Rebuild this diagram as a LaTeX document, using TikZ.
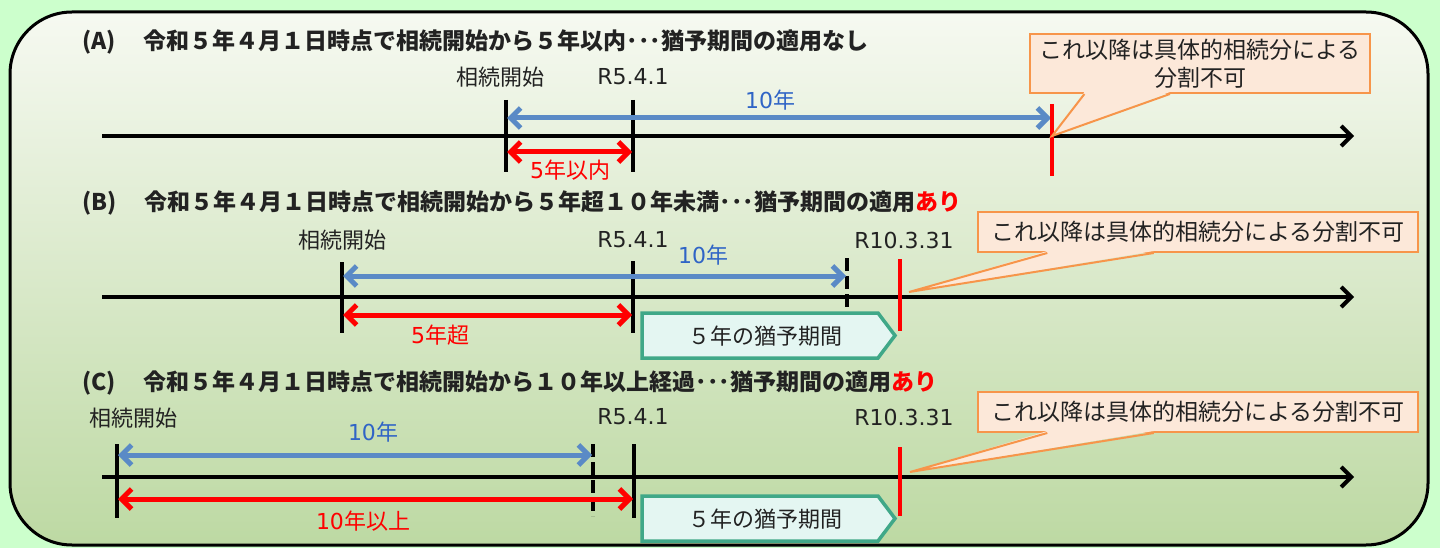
\documentclass[tikz,border=0pt]{standalone}
\usepackage{fontspec}
\setmainfont{Noto Sans CJK JP}
\newfontfamily\lat{DejaVu Sans}
\usetikzlibrary{arrows.meta,calc}
\definecolor{bggreen}{HTML}{CCFFCC}
\definecolor{boxtop}{HTML}{F6F9F1}
\definecolor{boxbot}{HTML}{BDD9A3}
\definecolor{arrblue}{HTML}{5A8AC6}
\definecolor{txtblue}{HTML}{2F64C6}
\definecolor{callfill}{HTML}{FCE8D9}
\definecolor{callline}{HTML}{F7954A}
\definecolor{pentline}{HTML}{40A888}
\definecolor{pentfill}{HTML}{E4F6F2}
\definecolor{txtgray}{HTML}{222222}
\tikzset{
  tip/.tip={Straight Barb[length=10pt,width=20pt]},
  titletxt/.style={anchor=west,inner sep=0pt,font=\fontsize{23}{27}\selectfont\bfseries,text=txtgray},
  lbl/.style={inner sep=0pt,font=\fontsize{22}{26}\selectfont,text=txtgray},
  bluelbl/.style={lbl,text=txtblue},
  redlbl/.style={lbl,text=red},
  tickline/.style={line width=4pt,black},
  dtick/.style={line width=4pt,black,dash pattern=on 13pt off 5pt},
  redtick/.style={line width=3.5pt,red},
  axisline/.style={line width=4pt,black,-{tip}},
  bluearr/.style={line width=5pt,arrblue,{tip}-{tip},shorten <=1pt,shorten >=1pt},
  redarr/.style={line width=5pt,red,{tip}-{tip},shorten <=1pt,shorten >=1pt},
  callbox/.style={draw=callline,line width=2pt,fill=callfill,inner sep=0pt,align=center,font=\fontsize{23}{28}\selectfont,text=txtgray},
  wedgeline/.style={draw=callline,line width=2pt,line join=miter},
  pentpath/.style={draw=pentline,fill=pentfill,line width=3.5pt}
}
\begin{document}
\begin{tikzpicture}[x=1pt,y=-1pt]
\useasboundingbox (0,0) rectangle (1440,548);
\fill[bggreen] (0,0) rectangle (1440,548);
\draw[line width=3pt,rounded corners=62pt,top color=boxtop,bottom color=boxbot] (10,12) rectangle (1428,545);

% ================= (A) =================
\node[titletxt] (Atitle) at (82,42) {(A)\hspace{28pt}令和５年４月１日時点で相続開始から５年以内･･･猶予期間の適用なし};
\node[lbl] (Astart) at (500,77) {相続開始};
\node[lbl] (Ar541) at (633,77) {\lat R5.4.1};
\node[bluelbl] (A10) at (770,100) {{\lat 10}年};
\node[redlbl] (A5) at (570,170) {{\lat 5}年以内};
\coordinate (Aax0) at (102,136);
\coordinate (Aax1) at (1354,136);
\draw[axisline] (Aax0) -- (Aax1);
\coordinate (At1a) at (506,100); \coordinate (At1b) at (506,172);
\coordinate (At2a) at (633,100); \coordinate (At2b) at (633,172);
\coordinate (Ar1) at (1052,104); \coordinate (Ar2) at (1052,176);
\draw[tickline] (At1a) -- (At1b);
\draw[tickline] (At2a) -- (At2b);
\coordinate (Ab0) at (506,118); \coordinate (Ab1) at (1052,118);
\draw[bluearr] (Ab0) -- (Ab1);
\coordinate (Are0) at (506,152); \coordinate (Are1) at (633,152);
\draw[redarr] (Are0) -- (Are1);
\draw[redtick] (Ar1) -- (Ar2);
\node[callbox,minimum width=340pt,minimum height=59pt] (Acall) at (1200,63.5) {これ以降は具体的相続分による\\分割不可};
\coordinate (Atip) at (1052,136);
\coordinate (Aw1) at ($(Acall.south west)!0.162!(Acall.south east)$);
\coordinate (Aw2) at ($(Acall.south west)!0.412!(Acall.south east)$);
\fill[callfill] ($(Aw1)+(0,-2)$) -- (Atip) -- ($(Aw2)+(0,-2)$) -- cycle;
\draw[wedgeline] (Aw1) -- (Atip) -- (Aw2);

% ================= (B) =================
\node[titletxt] (Btitle) at (82,203) {(B)\hspace{28pt}令和５年４月１日時点で相続開始から５年超１０年未満･･･猶予期間の適用{\color{red}あり}};
\node[lbl] (Bstart) at (342,240) {相続開始};
\node[lbl] (Br541) at (633,240) {\lat R5.4.1};
\node[lbl] (Br10) at (904,240) {\lat R10.3.31};
\node[bluelbl] (B10) at (703,255) {{\lat 10}年};
\node[redlbl] (B5) at (440,335) {{\lat 5}年超};
\coordinate (Bax0) at (102,297);
\coordinate (Bax1) at (1354,297);
\draw[axisline] (Bax0) -- (Bax1);
\coordinate (Bt1a) at (342,262); \coordinate (Bt1b) at (342,333);
\coordinate (Bt2a) at (633,261); \coordinate (Bt2b) at (633,333);
\coordinate (Bd1) at (847,258); \coordinate (Bd2) at (847,309);
\draw[tickline] (Bt1a) -- (Bt1b);
\draw[tickline] (Bt2a) -- (Bt2b);
\draw[dtick] (Bd1) -- (Bd2);
\coordinate (Bb0) at (342,276); \coordinate (Bb1) at (847,276);
\draw[bluearr] (Bb0) -- (Bb1);
\coordinate (Bre0) at (342,315); \coordinate (Bre1) at (633,315);
\draw[redarr] (Bre0) -- (Bre1);
\draw[pentpath] (642,313) -- (878,313) -- (895,335.5) -- (878,358) -- (642,358) -- cycle;
\node[lbl] (Bpent) at (765,336) {５年の猶予期間};
\coordinate (Br1) at (900,259); \coordinate (Br2) at (900,331);
\draw[redtick] (Br1) -- (Br2);
\node[callbox,minimum width=440pt,minimum height=40pt] (Bcall) at (1198,232) {これ以降は具体的相続分による分割不可};
\coordinate (Btip) at (909,292);
\coordinate (Bw1) at ($(Bcall.south west)!0.159!(Bcall.south east)$);
\coordinate (Bw2) at ($(Bcall.south west)!0.4!(Bcall.south east)$);
\fill[callfill] ($(Bw1)+(0,-2)$) -- (Btip) -- ($(Bw2)+(0,-2)$) -- cycle;
\draw[wedgeline] (Bw1) -- (Btip) -- (Bw2);

% ================= (C) =================
\node[titletxt] (Ctitle) at (82,383) {(C)\hspace{28pt}令和５年４月１日時点で相続開始から１０年以上経過･･･猶予期間の適用{\color{red}あり}};
\node[lbl] (Cstart) at (133,418) {相続開始};
\node[lbl] (Cr541) at (633,417) {\lat R5.4.1};
\node[lbl] (Cr10) at (904,417) {\lat R10.3.31};
\node[bluelbl] (C10) at (373,432) {{\lat 10}年};
\node[redlbl] (C5) at (363,521) {{\lat 10}年以上};
\coordinate (Cax0) at (102,477);
\coordinate (Cax1) at (1354,477);
\draw[axisline] (Cax0) -- (Cax1);
\coordinate (Ct1a) at (117,444); \coordinate (Ct1b) at (117,518);
\coordinate (Ct2a) at (634,444); \coordinate (Ct2b) at (634,518);
\coordinate (Cd1) at (593,444); \coordinate (Cd2) at (593,516);
\draw[tickline] (Ct1a) -- (Ct1b);
\draw[tickline] (Ct2a) -- (Ct2b);
\draw[dtick] (Cd1) -- (Cd2);
\coordinate (Cb0) at (117,455); \coordinate (Cb1) at (593,455);
\draw[bluearr] (Cb0) -- (Cb1);
\coordinate (Cre0) at (117,499); \coordinate (Cre1) at (634,499);
\draw[redarr] (Cre0) -- (Cre1);
\draw[pentpath] (642,496) -- (878,496) -- (895,518.5) -- (878,541) -- (642,541) -- cycle;
\node[lbl] (Cpent) at (765,519) {５年の猶予期間};
\coordinate (Cr1) at (900,447); \coordinate (Cr2) at (900,516);
\draw[redtick] (Cr1) -- (Cr2);
\node[callbox,minimum width=440pt,minimum height=40pt] (Ccall) at (1198,412) {これ以降は具体的相続分による分割不可};
\coordinate (Ctip) at (910,472);
\coordinate (Cw1) at ($(Ccall.south west)!0.159!(Ccall.south east)$);
\coordinate (Cw2) at ($(Ccall.south west)!0.4!(Ccall.south east)$);
\fill[callfill] ($(Cw1)+(0,-2)$) -- (Ctip) -- ($(Cw2)+(0,-2)$) -- cycle;
\draw[wedgeline] (Cw1) -- (Ctip) -- (Cw2);
\end{tikzpicture}
\end{document}
